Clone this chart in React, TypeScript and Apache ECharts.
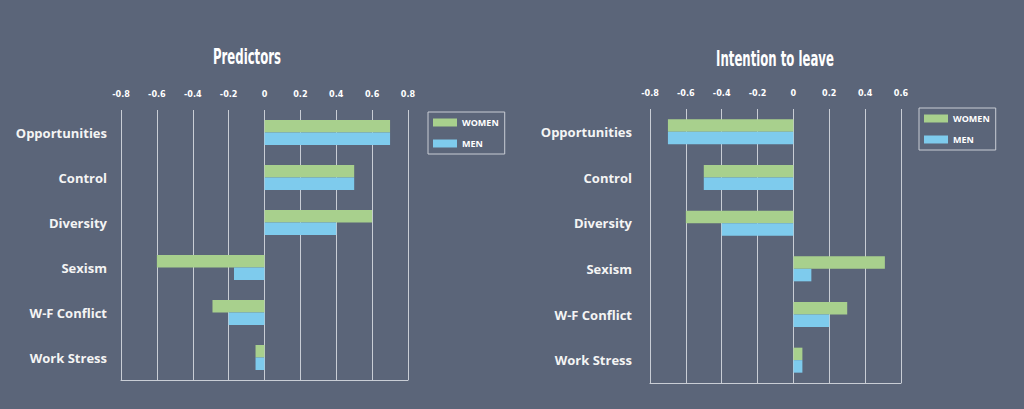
import { useEffect, useRef } from "react";
import * as echarts from "echarts";

const categories = ["Opportunities", "Control", "Diversity", "Sexism", "W-F Conflict", "Work Stress"];

// Predictors
const predWomen = [0.7, 0.5, 0.6, -0.6, -0.29, -0.05];
const predMen = [0.7, 0.5, 0.4, -0.17, -0.2, -0.05];

// Intention to leave
const leaveWomen = [-0.7, -0.5, -0.6, 0.51, 0.3, 0.05];
const leaveMen = [-0.7, -0.5, -0.4, 0.1, 0.2, 0.05];

const seriesNames = ["WOMEN", "MEN"];
const titles = ["Predictors", "Intention to leave"];

const BG = "#5b6579";
const GREEN = "#a8d08d";
const BLUE = "#7ecbed";
const LINE = "#c9cdd5";
const CONDENSED = "'DejaVu Sans Condensed', sans-serif";
const SANS = "'Open Sans', 'Noto Sans', sans-serif";

export default function App() {
  const chartRef = useRef<HTMLDivElement>(null);

  useEffect(() => {
    if (!chartRef.current) return;
    const chart = echarts.init(chartRef.current, null, { renderer: "svg" });

    const xAxisBase = (gridIndex: number, max: number) => ({
      type: "value" as const,
      gridIndex,
      position: "top" as const,
      min: -0.8,
      max,
      interval: 0.2,
      axisLine: { show: false },
      axisTick: { show: false },
      splitLine: { show: true, lineStyle: { color: LINE, width: 1 } },
      axisLabel: {
        color: "#ffffff",
        fontFamily: CONDENSED,
        fontWeight: "bold",
        fontSize: 9,
        margin: 12,
        formatter: (v: number) => (v === 0 ? "0" : v.toFixed(1)),
      },
    });

    // bottom frame line of each plot
    const bottomLine = (gridIndex: number, max: number) => ({
      type: "value" as const,
      gridIndex,
      position: "bottom" as const,
      min: -0.8,
      max,
      axisLine: { show: true, onZero: false, lineStyle: { color: LINE, width: 1 } },
      axisTick: { show: false },
      axisLabel: { show: false },
      splitLine: { show: false },
    });

    const yAxisBase = (gridIndex: number, margin: number) => ({
      type: "category" as const,
      gridIndex,
      data: categories,
      inverse: true,
      axisLine: { show: false },
      axisTick: { show: false },
      axisLabel: {
        color: "#f4f4f4",
        fontFamily: SANS,
        fontWeight: "bold",
        fontSize: 13,
        margin,
      },
    });

    const bar = (name: string, data: number[], color: string, axis: number) => ({
      name,
      type: "bar" as const,
      data,
      xAxisIndex: axis,
      yAxisIndex: axis,
      barWidth: 12.5,
      barGap: "0%",
      itemStyle: { color },
    });

    const legendBase = (left: number, top: number) => ({
      data: seriesNames,
      orient: "vertical" as const,
      left,
      top,
      icon: "rect",
      itemWidth: 24,
      itemHeight: 8,
      itemGap: 12,
      padding: [6, 6, 6, 5],
      borderColor: LINE,
      borderWidth: 1,
      textStyle: { color: "#ffffff", fontFamily: SANS, fontWeight: "bold", fontSize: 9 },
      selectedMode: false,
    });

    const titleText = (text: string, x: number, y: number) => ({
      type: "text" as const,
      x,
      y,
      scaleX: 0.62,
      style: {
        text,
        fill: "#ffffff",
        font: `bold 21px ${CONDENSED}`,
        align: "center",
        verticalAlign: "top",
      },
    });

    chart.setOption({
      animation: false,
      backgroundColor: BG,
      graphic: [titleText(titles[0], 247, 46), titleText(titles[1], 775, 48)],
      legend: [legendBase(428, 112), legendBase(919, 108)],
      grid: [
        { left: 121, top: 110, width: 287, height: 270 },
        { left: 650, top: 109, width: 251, height: 274 },
      ],
      xAxis: [xAxisBase(0, 0.8), xAxisBase(1, 0.6), bottomLine(0, 0.8), bottomLine(1, 0.6)],
      yAxis: [yAxisBase(0, 14), yAxisBase(1, 18)],
      series: [
        bar(seriesNames[0], predWomen, GREEN, 0),
        bar(seriesNames[1], predMen, BLUE, 0),
        bar(seriesNames[0], leaveWomen, GREEN, 1),
        bar(seriesNames[1], leaveMen, BLUE, 1),
      ],
    });

    return () => chart.dispose();
  }, []);

  return (
    <div
      ref={chartRef}
      style={{ position: "fixed", left: 0, top: 0, width: 1024, height: 409 }}
    />
  );
}
